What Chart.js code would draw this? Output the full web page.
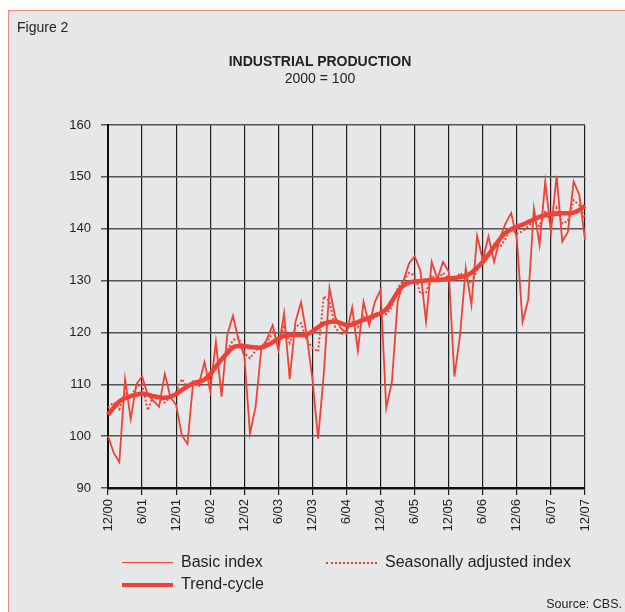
<!DOCTYPE html>
<html>
<head>
<meta charset="utf-8">
<script src="https://cdn.jsdelivr.net/npm/chart.js@4.4.1/dist/chart.umd.min.js"></script>
<style>
  html, body { margin: 0; padding: 0; background: #fff; }
  body { width: 625px; height: 612px; position: relative; overflow: hidden; font-family: "Liberation Sans", Arial, sans-serif; color: #222; }
  #frame { position: absolute; left: 8px; top: 10px; width: 617px; height: 602px; background: #e6e7e8; border-left: 1px solid #ee8a86; border-top: 1px solid #ee8a86; }
  #chart { position: absolute; left: 0; top: 0; }
  .txt { position: absolute; white-space: nowrap; }
  .swatch { position: absolute; width: 51px; }
</style>
</head>
<body>
<div id="frame"></div>
<canvas id="chart" width="625" height="612"></canvas>

<div class="txt" style="left:17px; top:19px; font-size:14px;">Figure 2</div>
<div class="txt" style="left:0; width:640px; text-align:center; top:53px; font-size:14px; font-weight:bold;">INDUSTRIAL PRODUCTION</div>
<div class="txt" style="left:0; width:640px; text-align:center; top:70px; font-size:14px;">2000 = 100</div>

<!-- legend -->
<div class="swatch" style="left:122px; top:562px; border-top:1.5px solid #ef4136;"></div>
<div class="txt" style="left:181px; top:553px; font-size:16px;">Basic index</div>
<div class="swatch" style="left:326px; top:562px; border-top:2px dotted #ef4136;"></div>
<div class="txt" style="left:385px; top:553px; font-size:16px;">Seasonally adjusted index</div>
<div class="swatch" style="left:122px; top:583px; border-top:4px solid #ef4136;"></div>
<div class="txt" style="left:181px; top:575px; font-size:16px;">Trend-cycle</div>
<div class="txt" style="right:3px; top:597px; font-size:12.5px;">Source: CBS.</div>

<script>
// --- Data (monthly, 12/00 .. 12/07) ---
const tickLabels = ['12/00', '6/01', '12/01', '6/02', '12/02', '6/03', '12/03', '6/04',
                    '12/04', '6/05', '12/05', '6/06', '12/06', '6/07', '12/07'];

const basicIndex = [
    100, 96.8, 95, 111, 103.3, 110, 111.5, 108, 106.8, 105.7, 112, 107.5,
    106, 100.2, 98.5, 110.5, 110, 114.3, 108.7, 118.2, 107.6, 119.5, 123.2, 118.5,
    115.5, 100.5, 105.7, 116.9, 118.7, 121.4, 116.6, 123.7, 111, 122, 125.8, 119.5,
    111, 99.5, 112, 128.6, 123, 120.8, 119.8, 124.8, 116.5, 125.9, 121.4, 125.9,
    128.2, 105.4, 110.5, 125.9, 129.8, 133.3, 134.7, 132, 122.1, 133.6, 130.3, 133.6,
    131.7, 111.5, 119.5, 132.4, 125.3, 138.6, 134, 138.5, 133.6, 138.1, 141, 143,
    138, 122, 126.3, 143.9, 136.9, 149.1, 139.4, 150.2, 137.5, 139.4, 149.1, 146.5,
    137.8
];

const seasonallyAdjusted = [
    105.5, 106.5, 105.2, 108.5, 107.5, 109.5, 110, 105, 108, 107.5, 106.5, 107.5,
    108.5, 111, 109.5, 110.5, 109.5, 111.5, 111, 113.5, 114.5, 116.5, 118.5, 119,
    116, 115, 116.5, 117.5, 118, 120, 118.5, 121, 118, 121, 121.8, 118.5,
    117, 116.3, 127, 126, 121, 119.5, 120.5, 122, 121, 123, 122, 123,
    124, 123.5, 125, 128.5, 130, 131.5, 131, 127.5, 127.7, 131, 130, 131.5,
    130.5, 130, 131.5, 130.5, 129.5, 132, 134.5, 135, 137, 136.5, 138, 140,
    139, 139.5, 140.5, 141.5, 140.5, 143.5, 141, 144, 141, 141.5, 145.5, 144.5,
    142
];

const trendCycle = [
    104.1, 105.5, 106.7, 107.3, 107.7, 108.0, 108.2, 108.0, 107.7, 107.5, 107.4, 107.6,
    108.1, 108.9, 109.6, 110.2, 110.5, 110.9, 112.0, 113.4, 114.8, 116.0, 117.1, 117.4,
    117.4, 117.2, 117.1, 117.1, 117.5, 118.1, 118.8, 119.3, 119.5, 119.5, 119.5, 119.6,
    120.2, 121.0, 121.7, 122.0, 122.1, 121.8, 121.4, 121.5, 122.0, 122.4, 122.8, 123.3,
    123.7, 124.5, 126.0, 127.8, 129.0, 129.6, 129.8, 129.9, 130.0, 130.1, 130.1, 130.2,
    130.4, 130.5, 130.7, 130.9, 131.5, 132.5, 133.6, 135.0, 136.5, 138.0, 139.2, 139.9,
    140.4, 140.8, 141.3, 141.8, 142.3, 142.6, 142.8, 142.9, 143.0, 143.0, 143.1, 143.6,
    144.4
];

// month labels, one per data point; only every 6th one is shown
const months = basicIndex.map((_, i) => i % 6 === 0 ? tickLabels[i / 6] : '');

const RED = '#ef4136';
Chart.defaults.font.family = '"Liberation Sans", Arial, sans-serif';
Chart.defaults.color = '#222';

new Chart(document.getElementById('chart'), {
    type: 'line',
    data: {
        labels: months,
        datasets: [
            { label: 'Basic index', data: basicIndex, borderColor: RED, borderWidth: 1.8, pointRadius: 0, tension: 0 },
            { label: 'Seasonally adjusted index', data: seasonallyAdjusted, borderColor: RED, borderWidth: 2, borderDash: [2, 2], pointRadius: 0, tension: 0 },
            { label: 'Trend-cycle', data: trendCycle, borderColor: RED, borderWidth: 4.5, pointRadius: 0, tension: 0.4 }
        ]
    },
    options: {
        responsive: false,
        animation: false,
        layout: { padding: { top: 125, right: 40, left: 60, bottom: 64 } },
        plugins: { legend: { display: false }, tooltip: { enabled: false } },
        scales: {
            x: {
                afterFit: (s) => { s.height = 60; },
                grid: { color: '#1e1e1e', lineWidth: 1.2, tickLength: 7 },
                border: { color: '#111', width: 2.5 },
                ticks: {
                    autoSkip: false, minRotation: 90, maxRotation: 90, padding: 4,
                    font: { size: 13 },
                    callback: function (v, i) { return i % 6 === 0 ? this.getLabelForValue(v) : null; }
                }
            },
            y: {
                min: 90, max: 160,
                afterFit: (s) => { s.width = 48; },
                grid: { color: '#555', lineWidth: 1.5, tickLength: 7 },
                border: { color: '#111', width: 2 },
                ticks: { stepSize: 10, padding: 10, font: { size: 13 } }
            }
        }
    }
});
</script>
</body>
</html>
